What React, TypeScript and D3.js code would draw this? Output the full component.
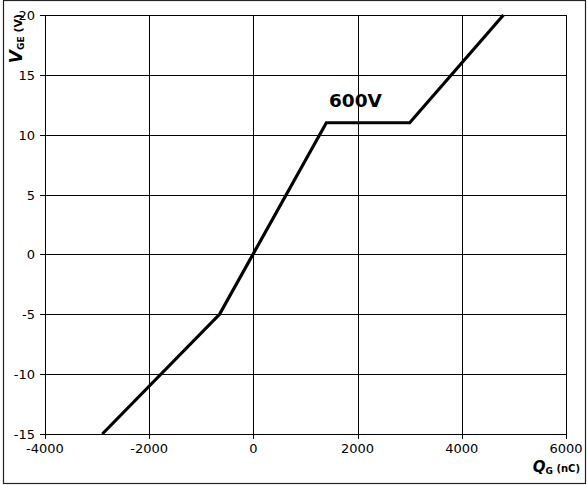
import React, { useRef, useEffect } from "react";
import * as d3 from "d3";

// gate charge curve, 600V
const chargeNc = [-2900, -650, 1400, 3000, 4800];
const gateVolts = [-15, -5, 11, 11, 20];
const xTicks = [-4000, -2000, 0, 2000, 4000, 6000];
const yTicks = [-15, -10, -5, 0, 5, 10, 15, 20];
const curveLabel = "600V";

const W = 587;
const H = 485;

const App: React.FC = () => {
  const ref = useRef<SVGSVGElement | null>(null);

  useEffect(() => {
    const svg = d3.select(ref.current);
    svg.selectAll("*").remove();

    const left = 45;
    const right = 566;
    const top = 15;
    const bottom = 434;
    const font = "DejaVu Sans, Verdana, sans-serif";

    const x = d3.scaleLinear().domain([-4000, 6000]).range([left, right]);
    const y = d3.scaleLinear().domain([-15, 20]).range([bottom, top]);

    // outer frame
    svg
      .append("rect")
      .attr("x", 3.5)
      .attr("y", 0.5)
      .attr("width", 582)
      .attr("height", 483)
      .attr("fill", "white")
      .attr("stroke", "#222")
      .attr("stroke-width", 1.2);

    // grid
    const grid = svg.append("g").attr("stroke", "#000").attr("stroke-width", 1);
    xTicks.forEach((t) => {
      grid
        .append("line")
        .attr("x1", Math.round(x(t)) + 0.5)
        .attr("x2", Math.round(x(t)) + 0.5)
        .attr("y1", top)
        .attr("y2", bottom + 5);
    });
    yTicks.forEach((t) => {
      grid
        .append("line")
        .attr("x1", left - 5)
        .attr("x2", right)
        .attr("y1", Math.round(y(t)) + 0.5)
        .attr("y2", Math.round(y(t)) + 0.5);
    });

    // tick labels
    svg
      .append("g")
      .selectAll("text")
      .data(xTicks)
      .join("text")
      .attr("x", (d) => x(d))
      .attr("y", bottom + 19)
      .attr("text-anchor", "middle")
      .attr("font-family", font)
      .attr("font-size", 13)
      .text((d) => d);

    svg
      .append("g")
      .selectAll("text")
      .data(yTicks)
      .join("text")
      .attr("x", left - 10)
      .attr("y", (d) => y(d) + 5)
      .attr("text-anchor", "end")
      .attr("font-family", font)
      .attr("font-size", 13)
      .text((d) => d);

    // curve
    const pts = chargeNc.map((c, i) => [c, gateVolts[i]] as [number, number]);
    const line = d3
      .line<[number, number]>()
      .x((d) => x(d[0]))
      .y((d) => y(d[1]));
    svg
      .append("path")
      .datum(pts)
      .attr("fill", "none")
      .attr("stroke", "#000")
      .attr("stroke-width", 3.2)
      .attr("d", line);

    svg
      .append("text")
      .attr("x", x(1450))
      .attr("y", y(11) - 16)
      .attr("font-family", font)
      .attr("font-weight", "bold")
      .attr("font-size", 18.5)
      .text(curveLabel);

    // y axis title
    const yt = svg
      .append("text")
      .attr("transform", `translate(22,14) rotate(-90)`)
      .attr("text-anchor", "end")
      .attr("font-family", font)
      .attr("font-weight", "bold");
    yt.append("tspan").attr("font-size", 17).attr("font-style", "italic").text("V");
    yt.append("tspan").attr("font-size", 9).attr("dy", 2).text("GE");
    yt.append("tspan").attr("font-size", 11).attr("dy", -2).text(" (V)");

    // x axis title
    const xt = svg
      .append("text")
      .attr("x", 580)
      .attr("y", 472)
      .attr("text-anchor", "end")
      .attr("font-family", font)
      .attr("font-weight", "bold");
    xt.append("tspan").attr("font-size", 15).attr("font-style", "italic").text("Q");
    xt.append("tspan").attr("font-size", 9).attr("dy", 2).text("G");
    xt.append("tspan").attr("font-size", 10).attr("dy", -2).text(" (nC)");
  }, []);

  return (
    <svg
      ref={ref}
      width={W}
      height={H}
      style={{ position: "absolute", left: 0, top: 0 }}
    />
  );
};

export default App;
